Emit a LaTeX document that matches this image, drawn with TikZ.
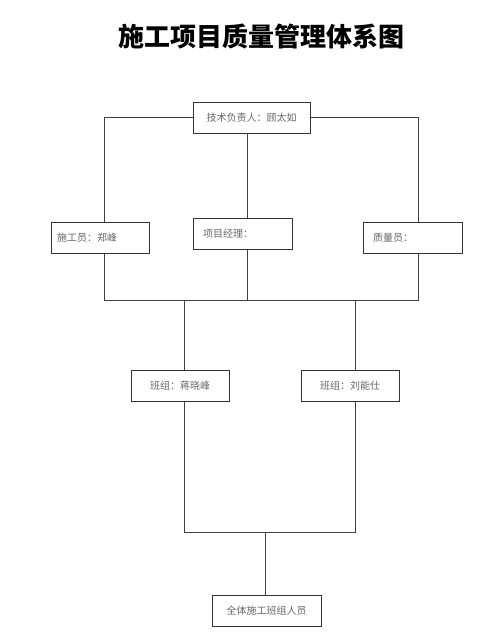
\documentclass[tikz,border=0pt]{standalone}
\usepackage{fontspec}
\newfontfamily\cjk{Noto Sans CJK SC}
\usepackage{tikz}
\usetikzlibrary{positioning}

\begin{document}
\begin{tikzpicture}[
  x=0.75pt, y=-0.75pt,
  box/.style={rectangle, draw=black!80, line width=0.6pt, inner sep=0pt,
    minimum height=23.25pt, text=black!60, font=\cjk\fontsize{7.5}{9}\selectfont},
  leftbox/.style={box, align=left},
  link/.style={draw=black!75, line width=0.6pt}
]
\useasboundingbox (0,0) rectangle (483,643);

\node[font=\cjk\bfseries\fontsize{19.5}{22}\selectfont] (title) at (261,37) {施工项目质量管理体系图};

\node[box, minimum width=87.75pt] (lead) at (251.5,117.5) {技术负责人：顾太如};

\node[leftbox, inner xsep=4.5pt, text width=64.5pt] (shigong) at (100,238) {施工员：郑峰};
\node[leftbox, inner xsep=7.5pt, text width=59.25pt] (jingli) at (242.5,233.5) {项目经理：};
\node[leftbox, inner xsep=7.5pt, text width=59.25pt] (zhiliang) at (412.5,237.5) {质量员：};

\node[box, minimum width=73.5pt] (banzuA) at (180,385.5) {班组：蒋晓峰};
\node[box, minimum width=73.5pt] (banzuB) at (350,385.5) {班组：刘能仕};

\node[box, minimum width=81.75pt] (quanti) at (266.5,610.5) {全体施工班组人员};

% bus lines
\coordinate (busL) at (104,300);
\coordinate (busM) at (247,300);
\coordinate (busR) at (418,300);
\coordinate (teamL) at (184,300);
\coordinate (teamR) at (355,300);
\coordinate (lowL) at (184,532);
\coordinate (lowM) at (265,532);
\coordinate (lowR) at (355,532);

\draw[link] (lead.west) -| (busL |- shigong.north);
\draw[link] (lead.east) -| (busR |- zhiliang.north);
\draw[link] (busM |- lead.south) -- (busM |- jingli.north);

\draw[link] (busL |- shigong.south) -- (busL) -- (busR) -- (busR |- zhiliang.south);
\draw[link] (busM |- jingli.south) -- (busM);

\draw[link] (teamL) -- (teamL |- banzuA.north);
\draw[link] (teamR) -- (teamR |- banzuB.north);

\draw[link] (teamL |- banzuA.south) -- (lowL) -- (lowR) -- (teamR |- banzuB.south);
\draw[link] (lowM) -- (lowM |- quanti.north);
\end{tikzpicture}
\end{document}
